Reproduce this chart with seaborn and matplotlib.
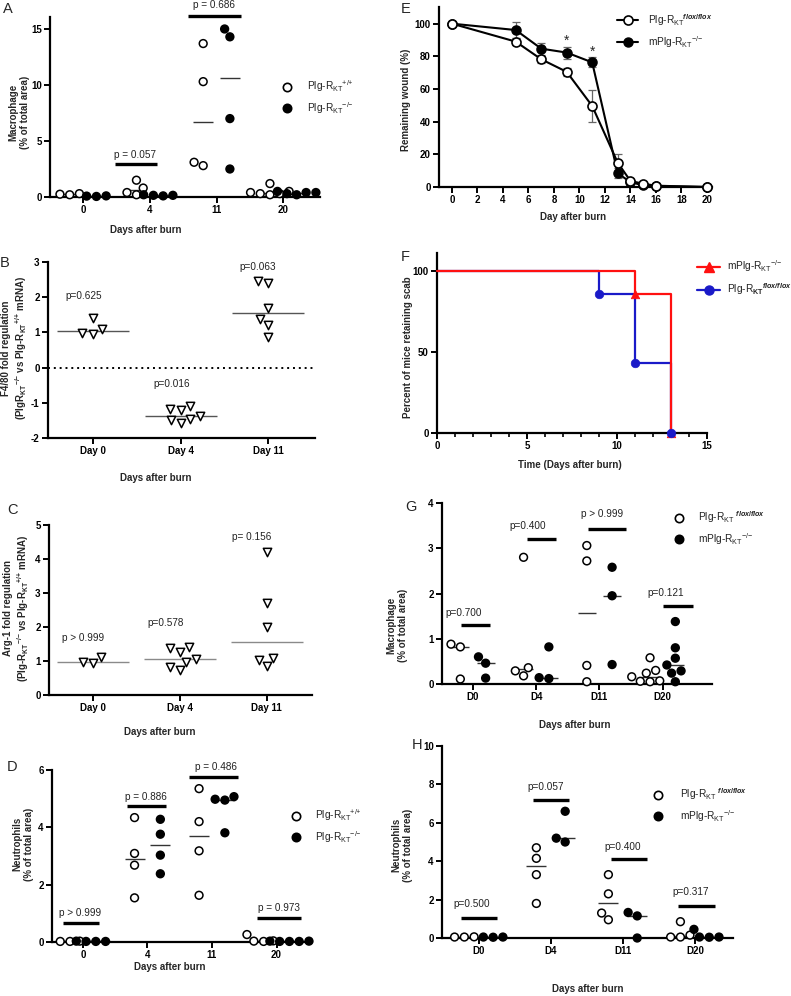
import numpy as np
import pandas as pd
import matplotlib
matplotlib.use("Agg")
import matplotlib.pyplot as plt
from matplotlib.lines import Line2D
import seaborn as sns

W, H = 791, 996

# ---------------- data ----------------
# A: macrophage area, Plg-RKT +/+ vs -/-
A_days = ["0", "4", "11", "20"]
A_wt = [[0.2, 0.3, 0.25], [1.5, 0.8, 0.2, 0.4], [13.7, 10.3, 2.8, 3.1], [1.2, 0.3, 0.4, 0.5, 0.2, 0.3]]
A_ko = [[0.05, 0.1, 0.08], [0.15, 0.2, 0.1, 0.15], [15.0, 14.3, 7.0, 2.5], [0.5, 0.3, 0.4, 0.2, 0.4]]
A_p = ["p = 0.057", "p = 0.686"]

# B: F4/80 fold regulation
B_days = ["Day 0", "Day 4", "Day 11"]
B_vals = [[0.95, 1.4, 1.1, 0.97], [-1.38, -1.57, -1.2, -1.17, -1.5, -1.1, -1.45], [2.4, 2.45, 1.7, 1.38, 1.22, 0.88]]
B_p = ["p=0.625", "p=0.016", "p=0.063"]

# C: Arg-1 fold regulation
C_days = ["Day 0", "Day 4", "Day 11"]
C_vals = [[0.95, 1.13, 0.98], [1.37, 0.74, 1.26, 0.98, 1.42, 1.05, 0.83], [4.2, 2.7, 2.01, 1.08, 1.03, 0.85]]
C_p = ["p > 0.999", "p=0.578", "p= 0.156"]

# D: neutrophils, Plg-RKT +/+ vs -/-
D_days = ["0", "4", "11", "20"]
D_wt = [[0.02, 0.03, 0.02], [4.34, 3.09, 2.68, 1.54], [5.35, 4.2, 3.18, 1.63], [0.26, 0.03, 0.02, 0.04]]
D_ko = [[0.02, 0.02, 0.03, 0.02], [4.28, 3.76, 3.03, 2.38], [5.07, 4.95, 4.98, 3.81], [0.02, 0.03, 0.02, 0.02, 0.03]]
D_p = ["p > 0.999", "p = 0.886", "p = 0.486", "p = 0.973"]

# E: remaining wound (%)
E_days = [0, 5, 7, 9, 11, 13, 14, 15, 16, 20]
E_wt = [100, 89, 78.2, 70.5, 49.6, 14.9, 3.7, 2.0, 0.8, 0]
E_wt_err = [0, 2, 2, 2.5, 10, 5, 0.5, 0.3, 0.3, 0]
E_ko = [100, 96.1, 84.7, 82.3, 76.3, 8.4, 3.0, 1.0, 0.5, 0]
E_ko_err = [0, 5, 3.7, 3.7, 3, 3, 0.5, 0.3, 0.3, 0]
E_star_days = [9, 11]

# F: percent of mice retaining scab
F_wt_days = [0, 9, 11, 13]
F_wt_pct = [100, 85.7, 42.9, 0]
F_ko_days = [0, 11, 13]
F_ko_pct = [100, 85.7, 0]

# G: macrophage area, flox/flox vs mPlg-RKT -/-
G_days = ["D0", "D4", "D11", "D20"]
G_wt = [[0.88, 0.82, 0.11], [2.8, 0.36, 0.29, 0.18], [3.06, 2.72, 0.41, 0.05], [0.58, 0.30, 0.24, 0.16, 0.07, 0.06, 0.05]]
G_ko = [[0.6, 0.46, 0.13], [0.82, 0.14, 0.12], [2.58, 1.95, 0.43], [1.38, 0.8, 0.57, 0.42, 0.29, 0.24, 0.05]]
G_p = ["p=0.700", "p=0.400", "p > 0.999", "p=0.121"]

# H: neutrophils, flox/flox vs mPlg-RKT -/-
H_days = ["D0", "D4", "D11", "D20"]
H_wt = [[0.05, 0.06, 0.05], [4.7, 4.15, 3.3, 1.8], [3.3, 2.3, 1.3, 0.95], [0.85, 0.15, 0.05, 0.05]]
H_ko = [[0.05, 0.04, 0.05], [6.6, 5.0, 5.2], [1.33, 1.15, 0.0], [0.45, 0.05, 0.05, 0.04]]
H_p = ["p=0.500", "p=0.057", "p=0.400", "p=0.317"]

# ---------------- layout (annotation positions, data units) ----------------
# (text_x, text_y, bar_x0, bar_x1, bar_y); bar_x0 None -> no bar
A_p_pos = [(0.78, 3.75, 0.48, 1.11, 2.95), (1.96, 17.1, 1.57, 2.37, 16.2)]
B_p_pos = [(-0.10, 2.02), (0.90, -0.48), (1.875, 2.87)]
C_p_pos = [(-0.115, 1.68), (0.83, 2.12), (1.83, 4.65)]
D_p_pos = [(-0.05, 1.01, -0.31, 0.25, 0.66), (0.97, 5.07, 0.68, 1.28, 4.76),
           (2.06, 6.12, 1.65, 2.41, 5.77), (3.04, 1.19, 2.70, 3.38, 0.84)]
G_p_pos = [(-0.14, 1.57, -0.19, 0.27, 1.31), (0.87, 3.5, 0.85, 1.31, 3.21),
           (2.04, 3.76, 1.82, 2.42, 3.43), (3.05, 2.01, 3.0, 3.48, 1.73)]
H_p_pos = [(-0.10, 1.77, -0.25, 0.26, 1.04), (0.93, 7.86, 0.75, 1.26, 7.19),
           (2.0, 4.74, 1.83, 2.33, 4.11), (2.94, 2.4, 2.76, 3.28, 1.67)]

sns.set_theme(style="ticks")
plt.rcParams["font.family"] = ["Liberation Sans", "DejaVu Sans"]
plt.rcParams.update({
    "font.weight": "bold",
    "mathtext.fontset": "custom",
    "mathtext.rm": "Liberation Sans",
    "mathtext.it": "Liberation Sans:italic",
    "mathtext.bf": "Liberation Sans:bold",
    "axes.linewidth": 1.6,
    "axes.edgecolor": "black",
    "xtick.color": "black", "ytick.color": "black",
    "xtick.major.width": 1.4, "ytick.major.width": 1.4,
    "xtick.major.size": 4, "ytick.major.size": 4,
    "xtick.labelsize": 7, "ytick.labelsize": 7,
    "xtick.major.pad": 2, "ytick.major.pad": 2,
})
has_bfit = "mathtext.bfit" in plt.rcParams
if has_bfit:
    plt.rcParams["mathtext.bfit"] = "Liberation Sans:italic:bold"

PM = r"$^{\mathregular{{+}/{+}}}$"
MM = r"$^{\mathregular{{-}/{-}}}$"
KT = r"$_{\mathregular{KT}}$"
FLOX = r"$^{\it{flox/flox}}$"

fig = plt.figure(figsize=(W / 100, H / 100), dpi=100)


def box(l, t, r, b):
    return [l / W, 1 - b / H, (r - l) / W, (b - t) / H]


def fx(x):
    return x / W


def fy(y):
    return 1 - y / H


def long_frame(cats, wt, ko=None):
    rows = []
    for cat, vals in zip(cats, wt):
        rows += [(cat, "WT", v) for v in vals]
    if ko is not None:
        for cat, vals in zip(cats, ko):
            rows += [(cat, "KO", v) for v in vals]
    return pd.DataFrame(rows, columns=["day", "group", "value"])


def dot_panel(ax, cats, wt, ko, med_w):
    df = long_frame(cats, wt, ko)
    sns.swarmplot(data=df, x="day", y="value", hue="group", order=cats,
                  hue_order=["WT", "KO"], dodge=True,
                  palette={"WT": "white", "KO": "black"}, edgecolor="black",
                  linewidth=1.1, size=5.6, clip_on=False, legend=False,
                  zorder=3, ax=ax)
    sns.pointplot(data=df, x="day", y="value", hue="group", order=cats,
                  hue_order=["WT", "KO"], estimator="median", errorbar=None,
                  dodge=0.4, palette={"WT": "#333333", "KO": "#333333"},
                  markers="_", linestyles="none", markersize=med_w,
                  markeredgewidth=1.0, legend=False, zorder=2, ax=ax)


def tri_panel(ax, cats, vals, line_color):
    df = long_frame(cats, vals)
    sns.swarmplot(data=df, x="day", y="value", order=cats, color="white",
                  edgecolor="black", linewidth=1.1, size=6, marker="v",
                  clip_on=False, zorder=3, ax=ax)
    sns.pointplot(data=df, x="day", y="value", order=cats, estimator="median",
                  errorbar=None, color=line_color, markers="_", linestyles="none",
                  markersize=52, markeredgewidth=1.0, zorder=2, ax=ax)


def p_marks(ax, texts, pos):
    for t, p in zip(texts, pos):
        ax.text(p[0], p[1], t, ha="center", va="center", fontsize=7.2,
                fontweight="normal", color="#222222", clip_on=False)
        if len(p) > 2:
            ax.plot([p[2], p[3]], [p[4], p[4]], color="black", lw=2.4,
                    solid_capstyle="butt", clip_on=False)


def finish(ax, xlim, ylim, yticks=None):
    sns.despine(ax=ax)
    ax.set_xlim(*xlim)
    ax.set_ylim(*ylim)
    if yticks is not None:
        ax.set_yticks(yticks)
    ax.set_xlabel("")
    ax.set_ylabel("")


def dot_legend(ax, labels, x, y, pad):
    hs = [Line2D([], [], ls="none", marker="o", ms=6, mfc="white", mec="black", mew=1.2),
          Line2D([], [], ls="none", marker="o", ms=6, mfc="black", mec="black", mew=1.2)]
    ax.legend(hs, labels, loc="center left", bbox_to_anchor=(fx(x), fy(y)),
              bbox_transform=fig.transFigure, frameon=False, handlelength=1.0,
              handletextpad=pad, labelspacing=0.55, borderpad=0, borderaxespad=0,
              prop={"size": 7.3, "weight": "normal"}, labelcolor="#222222")


def ylab(text, x, y):
    fig.text(fx(x), fy(y), text, rotation=90, ha="center", va="center",
             fontsize=7, fontweight="bold", multialignment="center", linespacing=1.25)


def xlab(text, x, y):
    fig.text(fx(x), fy(y), text, ha="center", va="center", fontsize=7, fontweight="bold")


def letter(s, x, y):
    fig.text(fx(x), fy(y), s, ha="left", va="top", fontsize=10.5, fontweight="normal")


# ---------------- A ----------------
axA = fig.add_axes(box(50, 17, 320, 197))
dot_panel(axA, A_days, A_wt, A_ko, 15)
p_marks(axA, A_p, A_p_pos)
finish(axA, (-0.495, 3.55), (0, 16.07), [0, 5, 10, 15])
dot_legend(axA, ["Plg-R" + KT + PM, "Plg-R" + KT + MM], 282, 97, 1.5)
ylab("Macrophage\n(% of total area)", 19, 112)
xlab("Days after burn", 146, 230)
letter("A", 3, 2)

# ---------------- B ----------------
axB = fig.add_axes(box(48, 262, 315, 438))
axB.axhline(0, ls=(0, (1, 2)), color="black", lw=1.4, zorder=1)
tri_panel(axB, B_days, B_vals, "#555555")
p_marks(axB, B_p, B_p_pos)
finish(axB, (-0.51, 2.53), (-2, 3), [-2, -1, 0, 1, 2, 3])
axB.set_yticklabels(["-2", "-1", "0", "1", "2", "3"])
ylab("F4/80 fold regulation\n(PlgR" + r"$_{\mathregular{KT}}$" + MM + " vs Plg-R"
     + r"$_{\mathregular{KT}}$" + PM + " mRNA)", 15, 348)
xlab("Days after burn", 156, 478)
letter("B", 0, 256)

# ---------------- C ----------------
axC = fig.add_axes(box(49, 525, 312, 695))
tri_panel(axC, C_days, C_vals, "#8a8a8a")
p_marks(axC, C_p, C_p_pos)
finish(axC, (-0.506, 2.52), (0, 5), [0, 1, 2, 3, 4, 5])
ylab("Arg-1 fold regulation\n(Plg-R" + KT + MM + " vs Plg-R" + KT + PM + " mRNA)", 17, 608)
xlab("Days after burn", 160, 732)
letter("C", 7, 503)

# ---------------- D ----------------
axD = fig.add_axes(box(52, 770, 312, 942))
dot_panel(axD, D_days, D_wt, D_ko, 15)
p_marks(axD, D_p, D_p_pos)
finish(axD, (-0.479, 3.55), (0, 6), [0, 2, 4, 6])
dot_legend(axD, ["Plg-R" + KT + PM, "Plg-R" + KT + MM], 291, 826, 1.4)
ylab("Neutrophils\n(% of total area)", 23, 844)
xlab("Days after burn", 170, 967)
letter("D", 7, 760)

# ---------------- E ----------------
axE = fig.add_axes(box(439, 7, 712, 187))
axE.errorbar(E_days, E_ko, yerr=E_ko_err, fmt="none", ecolor="#666666",
             elinewidth=0.9, capsize=3, capthick=0.9, zorder=1)
axE.errorbar(E_days, E_wt, yerr=E_wt_err, fmt="none", ecolor="#666666",
             elinewidth=0.9, capsize=3, capthick=0.9, zorder=1)
sns.lineplot(x=E_days, y=E_ko, color="black", linewidth=1.5, marker="o", markersize=6.5,
             markerfacecolor="black", markeredgecolor="black", markeredgewidth=1.1,
             clip_on=False, zorder=2, ax=axE)
sns.lineplot(x=E_days, y=E_wt, color="black", linewidth=1.5, marker="o", markersize=6.5,
             markerfacecolor="white", markeredgecolor="black", markeredgewidth=1.2,
             clip_on=False, zorder=3, ax=axE)
for d in E_star_days:
    i = E_days.index(d)
    axE.text(d, E_ko[i] + E_ko_err[i] + 3.5, "*", ha="center", va="center",
             fontsize=10, fontweight="normal")
finish(axE, (-1.02, 20.4), (0, 110.2), [0, 20, 40, 60, 80, 100])
axE.set_xticks(range(0, 21, 2))
hs = [Line2D([], [], color="black", lw=1.5, marker="o", ms=6.5, mfc="white", mec="black", mew=1.2),
      Line2D([], [], color="black", lw=1.5, marker="o", ms=6.5, mfc="black", mec="black")]
axE.legend(hs, ["Plg-R" + KT + FLOX, "mPlg-R" + KT + MM], loc="center left",
           bbox_to_anchor=(fx(617), fy(31)), bbox_transform=fig.transFigure,
           frameon=False, handlelength=2.1, handletextpad=1.0, labelspacing=0.6,
           borderpad=0, borderaxespad=0, prop={"size": 7.3, "weight": "normal"},
           labelcolor="#222222")
ylab("Remaining wound (%)", 406, 100)
xlab("Day after burn", 573, 217)
letter("E", 401, 2)

# ---------------- F ----------------
red, blue = "#ff1010", "#1a1ac8"
axF = fig.add_axes(box(437, 253, 707, 433))
sns.lineplot(x=F_wt_days, y=F_wt_pct, drawstyle="steps-post", color=blue,
             linewidth=1.6, clip_on=False, zorder=2, ax=axF)
sns.lineplot(x=F_ko_days, y=F_ko_pct, drawstyle="steps-post", color=red,
             linewidth=1.6, clip_on=False, zorder=3, ax=axF)
sns.scatterplot(x=F_ko_days[1:], y=F_ko_pct[1:], marker="^", s=38, color=red,
                edgecolor=red, clip_on=False, zorder=4, ax=axF)
sns.scatterplot(x=F_wt_days[1:], y=F_wt_pct[1:], marker="o", s=38, color=blue,
                edgecolor=blue, clip_on=False, zorder=5, ax=axF)
finish(axF, (0, 15), (0, 111), [0, 50, 100])
axF.set_xticks([0, 5, 10, 15])
axF.set_xticks(range(0, 16), minor=True)
axF.tick_params(axis="x", which="minor", length=3, width=1.2)
if has_bfit:
    flox_b = r"$^{\mathbfit{flox/flox}}$"
else:
    flox_b = r"$^{\it{flox/flox}}$"
hs = [Line2D([], [], color=red, lw=1.6, marker="^", ms=6.5, mfc=red, mec=red),
      Line2D([], [], color=blue, lw=1.6, marker="o", ms=6.5, mfc=blue, mec=blue)]
axF.legend(hs, ["mPlg-R" + KT + MM, "Plg-R" + r"$_{\mathbf{KT}}$" + flox_b],
           loc="center left", bbox_to_anchor=(fx(697), fy(278)),
           bbox_transform=fig.transFigure, frameon=False, handlelength=2.3,
           handletextpad=0.7, labelspacing=0.7, borderpad=0, borderaxespad=0,
           prop={"size": 7.3, "weight": "normal"}, labelcolor="#222222")
ylab("Percent of mice retaining scab", 408, 347)
xlab("Time (Days after burn)", 570, 465)
letter("F", 401, 250)

# ---------------- G ----------------
axG = fig.add_axes(box(442, 503, 712, 684))
dot_panel(axG, G_days, G_wt, G_ko, 13)
p_marks(axG, G_p, G_p_pos)
finish(axG, (-0.49, 3.78), (0, 4), [0, 1, 2, 3, 4])
dot_legend(axG, ["Plg-R" + KT + " " + FLOX, "mPlg-R" + KT + MM], 674, 528, 1.4)
ylab("Macrophage\n(% of total area)", 397, 625)
xlab("Days after burn", 575, 725)
letter("G", 405, 500)

# ---------------- H ----------------
axH = fig.add_axes(box(442, 746, 733, 938))
dot_panel(axH, H_days, H_wt, H_ko, 15)
p_marks(axH, H_p, H_p_pos)
finish(axH, (-0.51, 3.53), (0, 10), [0, 2, 4, 6, 8, 10])
dot_legend(axH, ["Plg-R" + KT + " " + FLOX, "mPlg-R" + KT + MM], 653, 805, 1.7)
ylab("Neutrophils\n(% of total area)", 402, 845)
xlab("Days after burn", 588, 989)
letter("H", 412, 738)

fig.savefig("out.png", dpi=100)
